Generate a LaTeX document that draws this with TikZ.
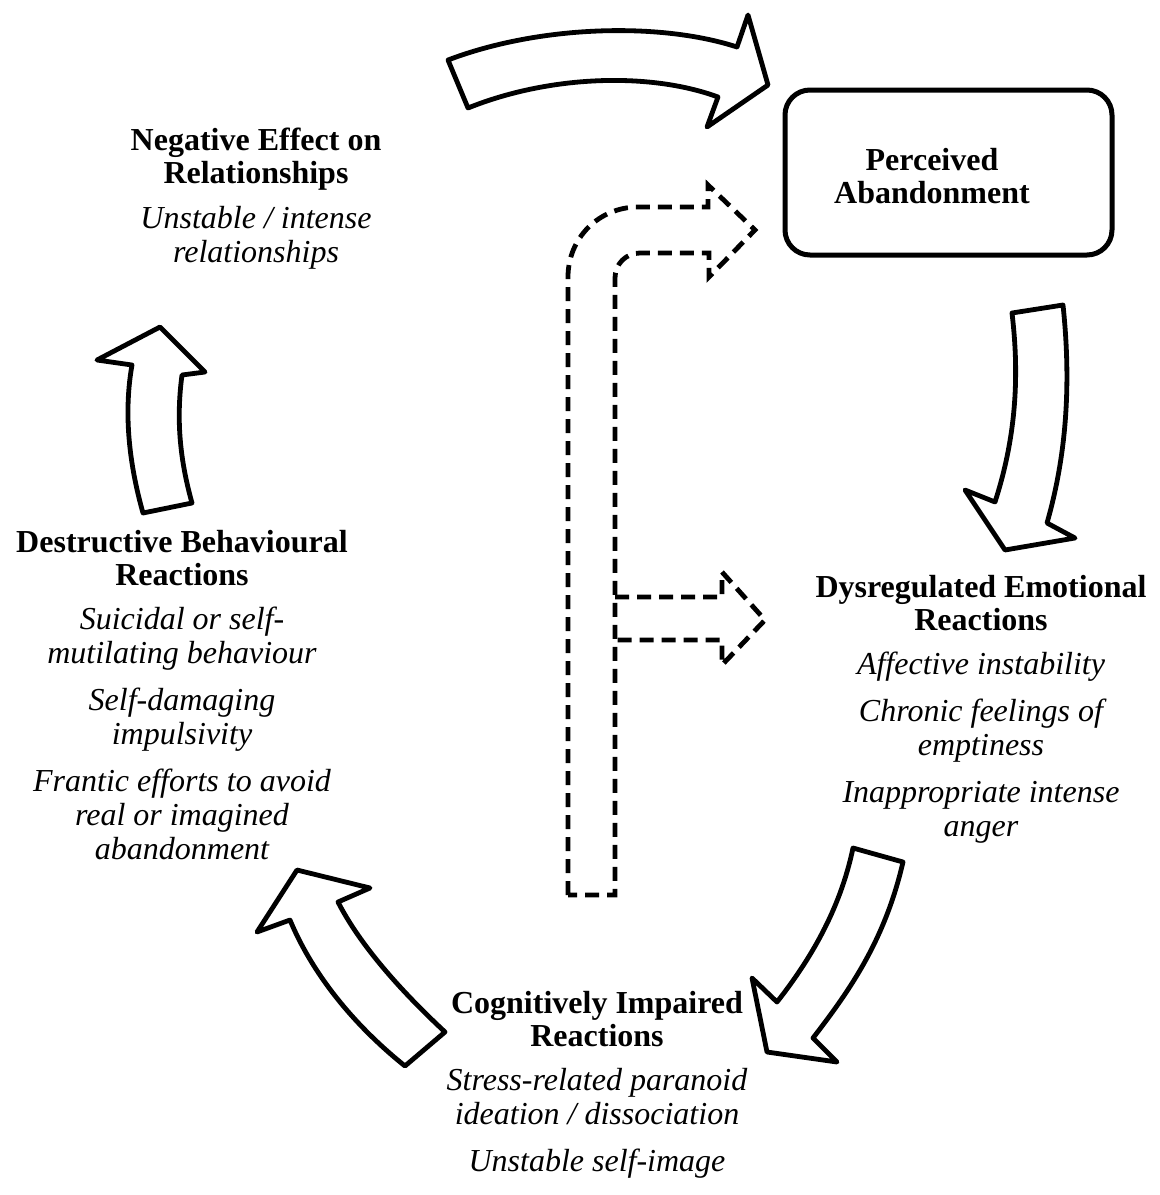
\documentclass[tikz,border=0pt]{standalone}
\usepackage{fontspec}
\setmainfont{Liberation Serif}
\begin{document}
\begin{tikzpicture}[x=1pt,y=-1pt,
  bigarrow/.style={draw=black, fill=white, line width=4.8pt, line join=round},
  dasharrow/.style={draw=black, line width=4.8pt, dash pattern=on 14pt off 8pt, line join=miter},
  headtxt/.style={font=\fontsize{32}{33}\selectfont\bfseries, anchor=base, inner sep=0pt},
  itemtxt/.style={font=\fontsize{32}{33}\selectfont\itshape, anchor=base, inner sep=0pt},
  boxstyle/.style={draw=black, line width=5pt, rounded corners=25pt, minimum width=327pt, minimum height=165pt, inner sep=0pt}]
\useasboundingbox[fill=white] (0,0) rectangle (1160,1195);

% Perceived Abandonment box
\node[boxstyle] (pabox) at (948.5,172.5) {};
\node[headtxt] (pa1) at (932,170) {Perceived};
\node[headtxt] (pa2) at (932,203) {Abandonment};

% Negative Effect on Relationships
\node[headtxt] (ne1) at (256,150) {Negative Effect on};
\node[headtxt] (ne2) at (256,183) {Relationships};
\node[itemtxt] (ne3) at (256,228) {Unstable / intense};
\node[itemtxt] (ne4) at (256,262) {relationships};

% Dysregulated Emotional Reactions
\node[headtxt] (de1) at (981,597) {Dysregulated Emotional};
\node[headtxt] (de2) at (981,630) {Reactions};
\node[itemtxt] (de3) at (981,674) {Affective instability};
\node[itemtxt] (de4) at (981,721) {Chronic feelings of};
\node[itemtxt] (de5) at (981,755) {emptiness};
\node[itemtxt] (de6) at (981,802) {Inappropriate intense};
\node[itemtxt] (de7) at (981,836) {anger};

% Destructive Behavioural Reactions
\node[headtxt] (db1) at (182,552) {Destructive Behavioural};
\node[headtxt] (db2) at (182,585) {Reactions};
\node[itemtxt] (db3) at (182,629) {Suicidal or self-};
\node[itemtxt] (db4) at (182,663) {mutilating behaviour};
\node[itemtxt] (db5) at (182,710) {Self-damaging};
\node[itemtxt] (db6) at (182,744) {impulsivity};
\node[itemtxt] (db7) at (182,791) {Frantic efforts to avoid};
\node[itemtxt] (db8) at (182,825) {real or imagined};
\node[itemtxt] (db9) at (182,859) {abandonment};

% Cognitively Impaired Reactions
\node[headtxt] (ci1) at (597,1013) {Cognitively Impaired};
\node[headtxt] (ci2) at (597,1046) {Reactions};
\node[itemtxt] (ci3) at (597,1090) {Stress-related paranoid};
\node[itemtxt] (ci4) at (597,1124) {ideation / dissociation};
\node[itemtxt] (ci5) at (597,1171) {Unstable self-image};

% Top curved arrow
\draw[bigarrow] (448,60) .. controls (540,25) and (660,22) .. (737,47)
  -- (748,15) -- (768,85) -- (707,127) -- (718,97)
  .. controls (650,72) and (550,75) .. (468,108) -- cycle;

% Right curved arrow (down)
\draw[bigarrow] (1012,313) -- (1063,305)
  .. controls (1072,390) and (1065,460) .. (1047,523)
  -- (1075,538) -- (1005,550) -- (965,490) -- (995,502)
  .. controls (1015,440) and (1020,380) .. (1012,313) -- cycle;

% Bottom-right curved arrow
\draw[bigarrow] (853,848) -- (903,862)
  .. controls (885,940) and (850,990) .. (813,1038)
  -- (837,1062) -- (767,1052) -- (752,978) -- (777,1002)
  .. controls (810,960) and (840,910) .. (853,848) -- cycle;

% Bottom-left curved arrow (up-left)
\draw[bigarrow] (445,1032) -- (405,1066)
  .. controls (360,1030) and (315,980) .. (290,920)
  -- (257,932) -- (297,870) -- (370,888) -- (338,902)
  .. controls (360,945) and (400,990) .. (445,1032) -- cycle;

% Left arrow (up)
\draw[bigarrow] (143,513) -- (192,503)
  .. controls (180,460) and (176,420) .. (182,375)
  -- (205,372) -- (160,327) -- (97,360) -- (132,365)
  .. controls (124,410) and (128,460) .. (143,513) -- cycle;

% Dashed bent arrow
\draw[dasharrow] (568,895) -- (568,277)
  .. controls (568,238) and (599,207) .. (638,207)
  -- (708,207) -- (708,185) -- (755,230) -- (709,277) -- (709,253)
  -- (640,253) .. controls (626,253) and (615,264) .. (615,278)
  -- (615,895) -- cycle;

% Dashed side arrow
\coordinate (sa1) at (615,597);
\coordinate (sa2) at (615,640);
\draw[dasharrow] (sa1) -- (722,597) -- (722,572) -- (765,620) -- (722,665) -- (722,640) -- (sa2);
\end{tikzpicture}
\end{document}
